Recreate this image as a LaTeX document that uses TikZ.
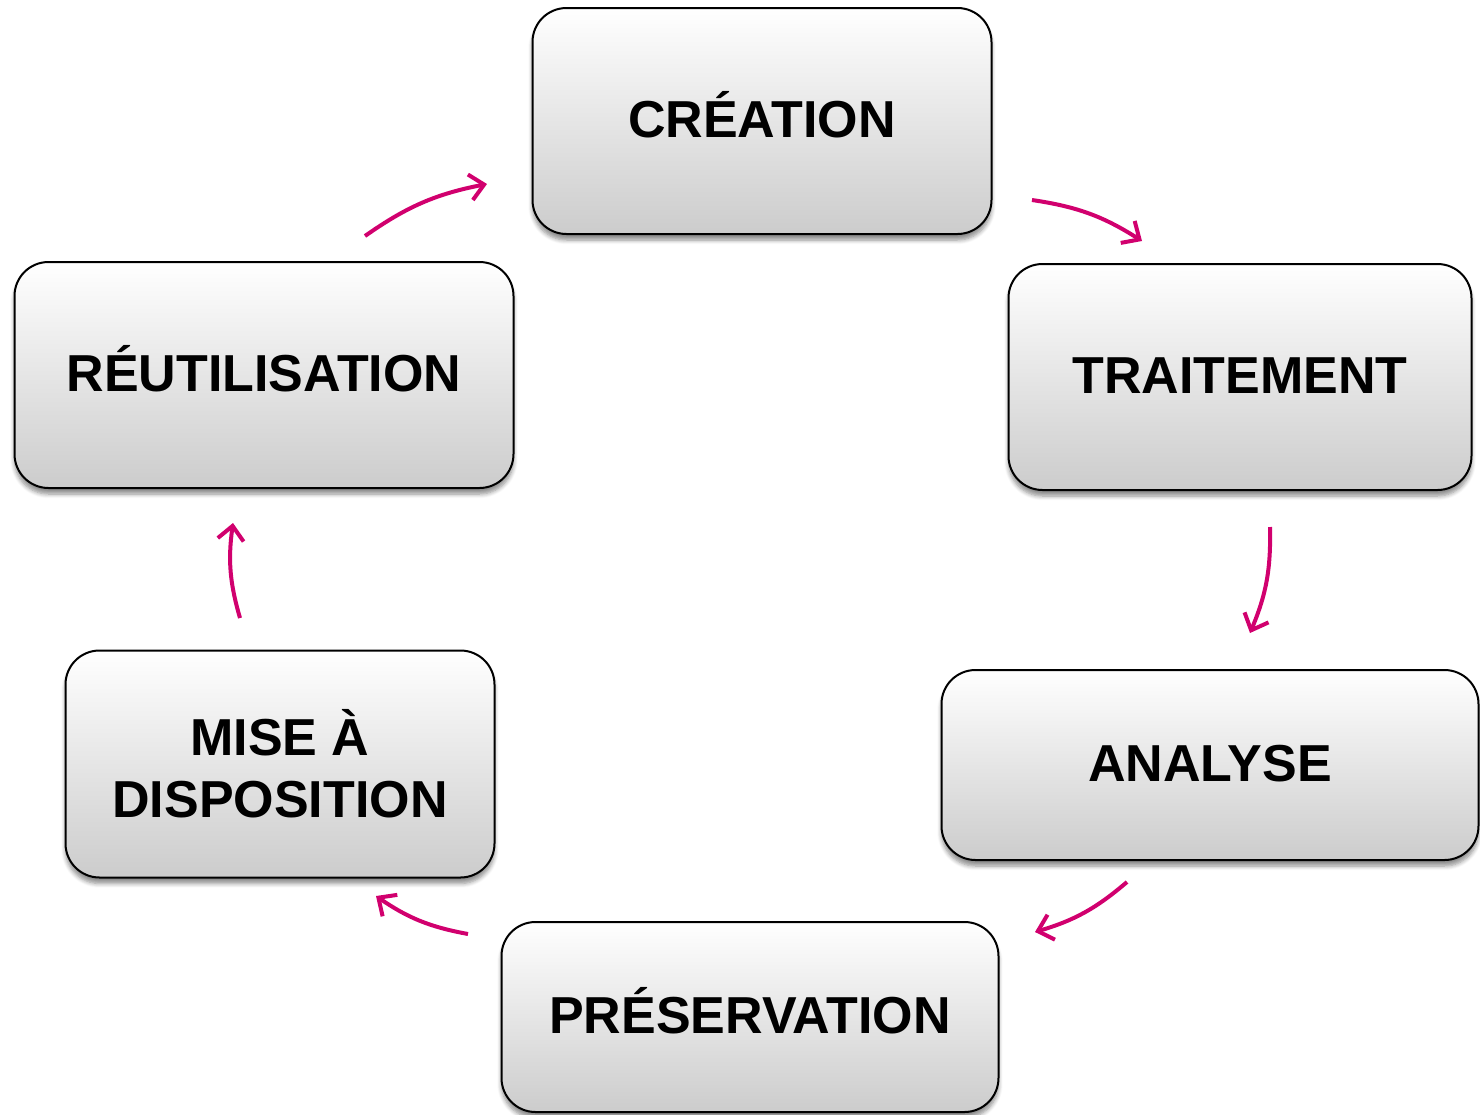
\documentclass[tikz,border=0pt]{standalone}
\usepackage{fontspec}
\setmainfont{Liberation Sans}
\usepackage{xcolor}
\usetikzlibrary{arrows.meta, shadows.blur}
\definecolor{cyclepink}{HTML}{D1006E}

\begin{document}
\begin{tikzpicture}[
        x=0.5pt, y=0.5pt,
        box/.style={draw, line width=1pt, rounded corners=17pt, align=center,
            top color=white, bottom color=black!20, middle color=white!90!black,
            font=\bfseries\fontsize{26}{31}\selectfont,
            blur shadow={shadow xshift=0pt, shadow yshift=-3pt, shadow opacity=45, shadow blur steps=6}},
        oneline/.style={box, text height=19pt, text depth=3pt},
        flow/.style={draw=cyclepink, line width=2pt, -{Straight Barb[length=7pt, width=13pt]}, bend left=12}
        ]
        \useasboundingbox (0,0) rectangle (1480,-1115);

        % boxes of the cycle
        \node[oneline, minimum width=229.5pt, minimum height=113pt] (crea) at (762,-121) {CRÉATION};
        \node[oneline, minimum width=231.5pt, minimum height=113pt] (trait) at (1240,-377) {TRAITEMENT};
        \node[oneline, minimum width=268.5pt, minimum height=95pt] (analyse) at (1210,-765) {ANALYSE};
        \node[oneline, minimum width=248.5pt, minimum height=95pt] (preserv) at (750,-1017) {PRÉSERVATION};
        \node[box, minimum width=214.5pt, minimum height=113.5pt] (mise) at (280,-764) {MISE À\\DISPOSITION};
        \node[oneline, minimum width=249.5pt, minimum height=113pt] (reut) at (264,-375) {RÉUTILISATION};

        % arrow ends
        \coordinate (reut out) at (365,-236);
        \coordinate (crea in) at (487,-184);
        \coordinate (crea out) at (1032,-200);
        \coordinate (trait in) at (1142,-241);
        \coordinate (trait out) at (1270,-527);
        \coordinate (analyse in) at (1250,-633);
        \coordinate (analyse out) at (1127,-882);
        \coordinate (preserv in) at (1035,-932);
        \coordinate (preserv out) at (468,-934);
        \coordinate (mise in) at (376,-896);
        \coordinate (mise out) at (240,-618);
        \coordinate (reut in) at (233,-523);

        \draw[flow] (reut out) to (crea in);
        \draw[flow] (crea out) to (trait in);
        \draw[flow] (trait out) to (analyse in);
        \draw[flow] (analyse out) to (preserv in);
        \draw[flow] (preserv out) to (mise in);
        \draw[flow] (mise out) to (reut in);
    \end{tikzpicture}
\end{document}
